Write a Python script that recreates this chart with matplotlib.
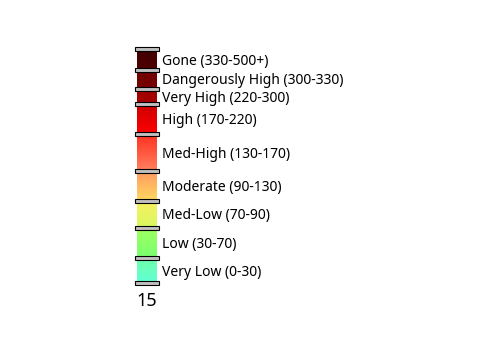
import numpy as np
import matplotlib.pyplot as plt
from matplotlib.colors import LinearSegmentedColormap
from matplotlib.patches import Rectangle

# categories from bottom to top
labels = ['Very Low (0-30)', 'Low (30-70)', 'Med-Low (70-90)', 'Moderate (90-130)',
          'Med-High (130-170)', 'High (170-220)', 'Very High (220-300)',
          'Dangerously High (300-330)', 'Gone (330-500+)']
edges = [0, 25, 55, 82, 112, 149, 179, 194, 213, 234]
bottom_colors = ['#60ffd8', '#78ff70', '#d8f860', '#ffd860', '#ff8060',
                 '#ff0000', '#a80000', '#780000', '#500000']
top_colors = ['#70ffa8', '#a0ff60', '#f8f060', '#ff9a60', '#ff3020',
              '#cc0000', '#a00000', '#700000', '#400000']
caption = '15'

fig = plt.figure(figsize=(4.8, 3.6), dpi=100)
ax = fig.add_axes([137/480, 77/360, 20/480, 234/360])
ax.set_xlim(0, 1)
ax.set_ylim(edges[0], edges[-1])

grad = np.linspace(0, 1, 64).reshape(-1, 1)
for i in range(len(labels)):
    cm = LinearSegmentedColormap.from_list('seg', [bottom_colors[i], top_colors[i]])
    ax.imshow(grad, cmap=cm, aspect='auto', origin='lower',
              extent=[0, 1, edges[i], edges[i+1]])
    ax.text(1.25, (edges[i] + edges[i+1]) / 2 - 1.5, labels[i], va='center', ha='left',
            fontsize=10, family='Noto Sans')

for e in edges:
    ax.add_patch(Rectangle((-0.1, e - 1.7), 1.2, 3.4, facecolor='#c0c0c0',
                           edgecolor='black', linewidth=0.8, clip_on=False, zorder=5))

ax.set_xlim(0, 1)
ax.set_ylim(edges[0], edges[-1])
ax.axis('off')
ax.text(0.5, -9.5, caption, ha='center', va='top', fontsize=13, family='Noto Sans')

fig.savefig('out.png', dpi=100)
